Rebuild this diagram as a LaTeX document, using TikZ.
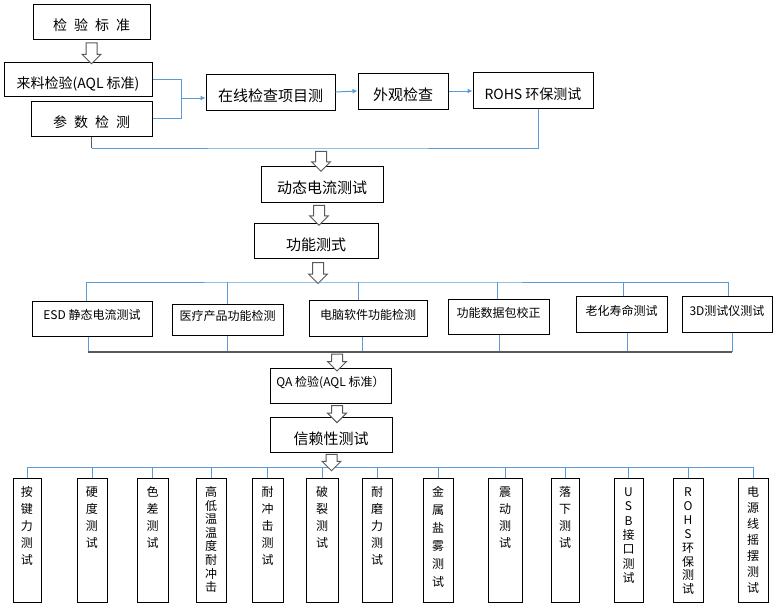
\documentclass[tikz,border=0pt]{standalone}
\usepackage{fontspec}
\setmainfont{Noto Sans CJK SC}
\usetikzlibrary{calc,arrows.meta,positioning,shapes.arrows}
\definecolor{flowblue}{RGB}{91,155,213}
\definecolor{flowgrey}{RGB}{89,89,89}
\newcommand{\vlab}[2]{\parbox[c][124pt][t]{22pt}{\centering\baselineskip=#1\relax\rule{0pt}{18pt}#2\par}}
\tikzset{
  fbox/.style={rectangle, draw=black, line width=1pt, fill=white, inner sep=2pt,
               text height=18pt, text depth=0pt, font=\fontsize{14}{17}\selectfont},
  fboxL/.style={fbox, text height=19pt, font=\fontsize{15}{18}\selectfont},
  fboxS/.style={fbox, text height=8pt, text depth=6pt, font=\fontsize{12}{14}\selectfont},
  fvbox/.style={rectangle, draw=black, line width=1pt, fill=white, inner sep=0pt,
                minimum height=124pt, font=\fontsize{12}{14}\selectfont},
  fline/.style={line width=1pt, flowblue},
  fdark/.style={line width=1.2pt, black!65},
  farrow/.style={fline, -{Latex[length=5pt, width=5pt]}},
  hollowarr/.style={single arrow, draw=flowgrey, fill=white, line width=1pt, inner sep=5pt,
                    single arrow head extend=4pt, rotate=-90, minimum height=#1},
}

\begin{document}
\begin{tikzpicture}[x=1pt, y=-1pt, >=Stealth]
\useasboundingbox (0,0) rectangle (777,608);
% incoming part
\node[fbox, minimum width=117pt, minimum height=35pt] (std) at (91.5,21.5) {检\enspace 验\enspace 标\enspace 准};
\node[fbox, minimum width=148pt, minimum height=34pt] (iqc) at (78,79) {来料检验(AQL 标准)};
\node[fbox, minimum width=121pt, minimum height=35pt] (par) at (91.5,118.5) {参\enspace 数\enspace 检\enspace 测};
\node[fboxL, minimum width=129pt, minimum height=36pt] (onl) at (270.5,92) {在线检查项目测};
\node[fboxL, minimum width=90pt, minimum height=36pt] (vis) at (403,91) {外观检查};
\node[fbox, minimum width=120pt, minimum height=36pt] (rohs) at (533,90) {ROHS 环保测试};
\node[fboxL, minimum width=122pt, minimum height=36pt] (dyn) at (322,184) {动态电流测试};
\node[fboxL, minimum width=124pt, minimum height=35pt] (fun) at (316,240.5) {功能测式};
% function tests
\node[fboxS, minimum width=120pt, minimum height=35pt] (esd) at (92,318.5) {ESD 静态电流测试};
\node[fboxS, minimum width=111pt, minimum height=31pt] (med) at (227.5,319.5) {医疗产品功能检测};
\node[fboxS, minimum width=118pt, minimum height=36pt] (pc) at (368,318) {电脑软件功能检测};
\node[fboxS, minimum width=101pt, minimum height=35pt] (pkt) at (498.5,316.5) {功能数据包校正};
\node[fboxS, minimum width=91pt, minimum height=36pt] (age) at (621.5,314) {老化寿命测试};
\node[fboxS, minimum width=90pt, minimum height=36pt] (tdt) at (727,314) {3D测试仪测试};
\node[fboxS, minimum width=121pt, minimum height=35pt] (qa) at (330.5,385.5) {QA 检验(AQL 标准）};
\node[fboxL, minimum width=122pt, minimum height=35pt] (rel) at (331,434.5) {信赖性测试};
% reliability tests
\foreach \nm/\cx/\w/\bs/\txt in {
  t1/27/28/17pt/{按\\键\\力\\测\\试},
  t2/92/30/17pt/{硬\\度\\测\\试},
  t3/152.5/31/17pt/{色\\差\\测\\试},
  t4/211/30/13.6pt/{高\\低\\温\\温\\度\\耐\\冲\\击},
  t5/267.5/31/17pt/{耐\\冲\\击\\测\\试},
  t6/322/32/17pt/{破\\裂\\测\\试},
  t7/377/30/17pt/{耐\\磨\\力\\测\\试},
  t8/438/30/18pt/{金\\属\\盐\\雾\\测\\试},
  t9/505/34/17pt/{震\\动\\测\\试},
  t10/565/28/17pt/{落\\下\\测\\试},
  t11/628.5/29/14.3pt/{U\\S\\B\\接\\口\\测\\试},
  t12/688/30/13.9pt/{R\\O\\H\\S\\环\\保\\测\\试},
  t13/753/30/16pt/{电\\源\\线\\摇\\摆\\测\\试}}
  \node[fvbox, minimum width=\w pt] (\nm) at (\cx,540.5) {\vlab{\bs}{\txt}};

% connectors, top
\coordinate (jn) at (181,98);
\draw[fline] (iqc.east) -| (jn);
\draw[fline] (par.east) -| (jn);
\draw[farrow] (jn) -- (jn -| onl.west);
\draw[farrow] (onl.east) -- (vis.west);
\draw[farrow] (vis.east) -- (vis.east -| rohs.west);
\coordinate (bus1) at (321,148);
\coordinate (r1) at ([xshift=5pt]rohs.south);
\draw[fline] (r1) |- (bus1) -- (bus1 -| par.south);
\draw[fdark] (bus1 -| par.south) -- (par.south);

% buses of the function tests
\coordinate (bus2) at (320,282);
\coordinate (bus3) at (337,352);
\coordinate (e1) at ([xshift=-6pt]esd.north);
\coordinate (e2) at ([xshift=1pt]tdt.north);
\draw[fline] (e1) |- (bus2) -| (e2);
\foreach \nm/\dx in {med/0, pc/-10, pkt/-1.5, age/1.5}
  \draw[fline] ([xshift=\dx pt]\nm.north) coordinate (tmp) -- (tmp |- bus2);
\foreach \nm/\dx in {esd/-4, med/0, pc/-6, pkt/0.5, age/5.5, tdt/5}
  \draw[fline] ([xshift=\dx pt]\nm.south) coordinate (tmp) -- (tmp |- bus3);
\coordinate (e3) at ([xshift=-4pt]esd.south);
\coordinate (e4) at ([xshift=5pt]tdt.south);
\draw[fdark] (e3 |- bus3) -- (e4 |- bus3);

% bus of the reliability tests
\coordinate (bus4) at (332,467);
\draw[fline] (t1.north |- bus4) -- (t13.north |- bus4);
\foreach \nm in {t1,t2,t3,t4,t5,t6,t7,t8,t9,t10,t11,t12,t13}
  \draw[fline] (\nm.north) -- (\nm.north |- bus4);

% hollow block arrows
\node[hollowarr=21pt] (ar1) at ($(std.south)!.5!(std.south |- iqc.north)$) {};
\node[hollowarr=20pt] (ar2) at ($(bus1)!.6!(bus1 |- dyn.north)$) {};
\node[hollowarr=20pt] (ar3) at ($(dyn.south)!.5!(fun.north)$) {};
\node[hollowarr=21pt] (ar4) at ($(fun.south)!.5!(bus2)$) {};
\node[hollowarr=17pt] (ar5) at ($(bus3)!.5!(bus3 |- qa.north)$) {};
\node[hollowarr=17pt] (ar6) at ($(bus3 |- qa.south)!.6!(bus3 |- rel.north)$) {};
\node[hollowarr=15pt] (ar7) at ($(rel.south)!.5!(bus4)$) {};
\end{tikzpicture}
\end{document}
